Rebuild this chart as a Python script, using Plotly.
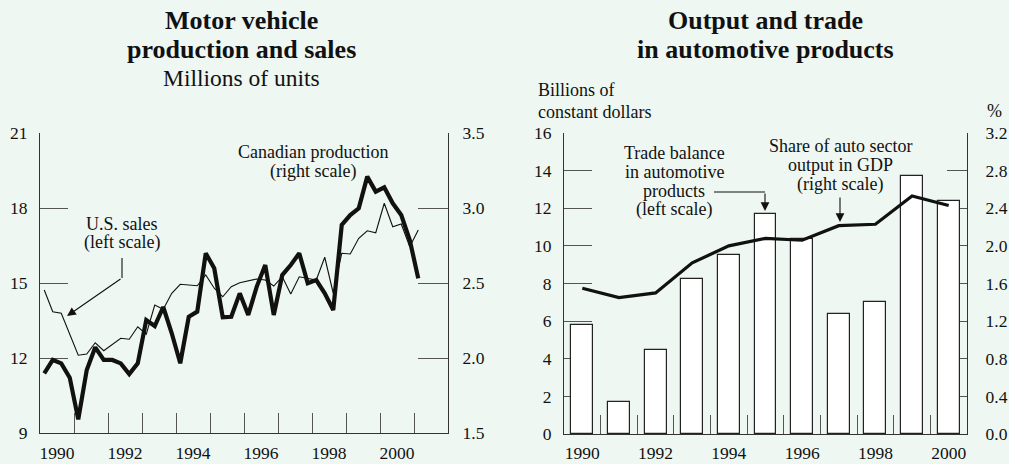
import plotly.graph_objects as go

# ---------------- Data ----------------
# Left chart: quarterly, 1990Q1 - 2001Q1
quarters = [f"{1990 + i // 4}Q{i % 4 + 1}" for i in range(45)]
us_sales = [14.72, 13.85, 13.79, 12.92, 12.11, 12.16, 12.61, 12.29, 12.54, 12.79,
            12.75, 13.25, 12.95, 14.12, 13.95, 14.59, 14.95, 14.92, 14.89, 15.32,
            14.79, 14.45, 14.85, 15.01, 15.10, 15.16, 15.12, 14.88, 15.25, 14.56,
            15.25, 15.19, 15.12, 16.03, 14.59, 16.19, 16.16, 16.79, 17.09, 17.01,
            18.19, 17.25, 17.36, 16.45, 17.12]
canada_prod = [1.898, 1.987, 1.964, 1.869, 1.591, 1.920, 2.071, 1.987, 1.987, 1.964,
               1.893, 1.964, 2.253, 2.213, 2.340, 2.165, 1.965, 2.275, 2.309, 2.698,
               2.598, 2.271, 2.275, 2.431, 2.287, 2.476, 2.620, 2.287, 2.553, 2.620,
               2.698, 2.498, 2.520, 2.431, 2.320, 2.887, 2.953, 2.998, 3.209, 3.109,
               3.138, 3.031, 2.953, 2.787, 2.531]
left_x_labels = ["1990", "1992", "1994", "1996", "1998", "2000"]
left_y_ticks = [9, 12, 15, 18, 21]
left_y2_ticks = [1.5, 2.0, 2.5, 3.0, 3.5]

# Right chart: annual
trade_years = list(range(1990, 2001))
trade_balance = [5.8, 1.7, 4.45, 8.23, 9.52, 11.69, 10.36, 6.37, 7.0, 13.74, 12.39]
auto_share = [1.55, 1.45, 1.50, 1.82, 2.00, 2.08, 2.06, 2.215, 2.23, 2.53, 2.43]
right_x_labels = ["1990", "1992", "1994", "1996", "1998", "2000"]
right_y_ticks = [0, 2, 4, 6, 8, 10, 12, 14, 16]
right_y2_ticks = [0.0, 0.4, 0.8, 1.2, 1.6, 2.0, 2.4, 2.8, 3.2]

# ---------------- Figure ----------------
W, H = 1009, 464
BG = "#EEF7F1"
INK = "#111111"
AX = "#333333"
TK = "#555555"
FONT = "Liberation Serif"


def px(x):
    return x / W


def py(y):
    return 1 - y / H


def q_pos(label):
    yr, q = label.split("Q")
    return int(yr) + (int(q) - 0.5) / 4


qx = [q_pos(q) for q in quarters]

fig = go.Figure()

fig.add_trace(go.Scatter(x=qx, y=us_sales, mode="lines", xaxis="x", yaxis="y",
                         line=dict(color=INK, width=1.1), hoverinfo="skip"))
fig.add_trace(go.Scatter(x=qx, y=canada_prod, mode="lines", xaxis="x", yaxis="y2",
                         line=dict(color=INK, width=4.2), hoverinfo="skip"))

fig.add_trace(go.Bar(x=trade_years, y=trade_balance, xaxis="x2", yaxis="y3",
                     width=0.6, marker=dict(color="white", line=dict(color="#222222", width=1.2)),
                     hoverinfo="skip"))
fig.add_trace(go.Scatter(x=trade_years, y=auto_share, mode="lines", xaxis="x2", yaxis="y4",
                         line=dict(color=INK, width=3.2), hoverinfo="skip"))

tickfont = dict(family=FONT, size=17.5, color=INK)
ydom = [py(433), py(133)]
ydom_r = [py(434), py(133)]

common_axis = dict(showgrid=False, zeroline=False, showline=True, linecolor=AX, linewidth=1.2,
                   tickfont=tickfont, layer="below traces", fixedrange=True, automargin=False)

fig.update_layout(
    template="none",
    width=W, height=H,
    margin=dict(l=0, r=0, t=0, b=0, autoexpand=False),
    paper_bgcolor=BG, plot_bgcolor=BG,
    showlegend=False,
    font=dict(family=FONT, size=18, color=INK),
    bargap=0,
    xaxis=dict(domain=[px(40), px(448)], range=[1990, 2002], anchor="y",
               tickmode="array", tickvals=[int(s) + 0.5 for s in left_x_labels],
               ticktext=left_x_labels, ticks="", ticklabelstandoff=4,
               minor=dict(tickmode="array", tickvals=list(range(1991, 2002)), ticks="inside",
                          ticklen=20, tickcolor=TK, tickwidth=1.2),
               **common_axis),
    yaxis=dict(domain=ydom, range=[9, 21], anchor="x", side="left",
               tickmode="array", tickvals=left_y_ticks, ticks="inside", ticklen=28,
               tickcolor=TK, tickwidth=1.2, ticklabelstandoff=8, **common_axis),
    yaxis2=dict(domain=ydom, range=[1.5, 3.5], anchor="x", overlaying="y", side="right",
                tickmode="array", tickvals=left_y2_ticks, tickformat=".1f", ticks="inside",
                ticklen=30, tickcolor=TK, tickwidth=1.2, ticklabelstandoff=10, **common_axis),
    xaxis2=dict(domain=[px(564), px(967)], range=[1989.5, 2000.5], anchor="y3",
                tickmode="array", tickvals=[int(s) for s in right_x_labels],
                ticktext=right_x_labels, ticks="", ticklabelstandoff=3,
                minor=dict(tickmode="array", tickvals=[y + 0.5 for y in trade_years[:-1]],
                           ticks="inside", ticklen=19, tickcolor=TK, tickwidth=1.2),
                **common_axis),
    yaxis3=dict(domain=ydom_r, range=[0, 16], anchor="x2", side="left",
                tickmode="array", tickvals=right_y_ticks, ticks="inside", ticklen=28,
                tickcolor=TK, tickwidth=1.2, ticklabelstandoff=8, **common_axis),
    yaxis4=dict(domain=ydom_r, range=[0, 3.2], anchor="x2", overlaying="y3", side="right",
                tickmode="array", tickvals=right_y2_ticks, tickformat=".1f", ticks="inside",
                ticklen=20, tickcolor=TK, tickwidth=1.2, ticklabelstandoff=14, **common_axis),
)


def text(x, y, s, size=18, bold=False, xanchor="center"):
    fig.add_annotation(x=px(x), y=py(y), xref="paper", yref="paper", text=s, showarrow=False,
                       xanchor=xanchor, yanchor="middle",
                       font=dict(family=FONT, size=size, color=INK,
                                 weight="bold" if bold else "normal"))


# Titles
text(241, 21, "Motor vehicle", size=26, bold=True)
text(241, 50, "production and sales", size=26, bold=True)
text(241, 78, "Millions of units", size=23.5)
text(765, 21, "Output and trade", size=26, bold=True)
text(765, 50, "in automotive products", size=26, bold=True)

# Left chart labels
text(122, 224, "U.S. sales")
text(122, 242, "(left scale)")
text(313, 152, "Canadian production")
text(313, 171, "(right scale)")

# Right chart labels
text(536, 90, "Billions of", xanchor="left")
text(536, 112, "constant dollars", xanchor="left")
text(994, 111, "%")
text(674, 153, "Trade balance")
text(674, 172, "in automotive")
text(674, 191, "products")
text(674, 209, "(left scale)")
text(840, 146, "Share of auto sector")
text(840, 165, "output in GDP")
text(840, 184, "(right scale)")

# Connector lines
line_style = dict(color=INK, width=1.1)
fig.add_shape(type="line", xref="paper", yref="paper", x0=px(122), x1=px(122),
              y0=py(258), y1=py(278), line=line_style)
fig.add_shape(type="line", xref="paper", yref="paper", x0=px(714), x1=px(765),
              y0=py(192), y1=py(192), line=line_style)


def arrow(x_tip, y_tip, x_tail, y_tail):
    fig.add_annotation(x=px(x_tip), y=py(y_tip), xref="paper", yref="paper", text="",
                       showarrow=True, arrowhead=2, arrowsize=1.6, arrowwidth=1.1,
                       arrowcolor=INK, ax=x_tail - x_tip, ay=y_tail - y_tip,
                       standoff=0, startstandoff=0)


arrow(67, 316, 122, 278)
arrow(765, 211, 765, 192)
arrow(840, 222, 840, 196)

fig.write_html("out.html", config={"displayModeBar": False},
               post_script="document.body.style.margin='0';document.body.style.overflow='hidden';")
